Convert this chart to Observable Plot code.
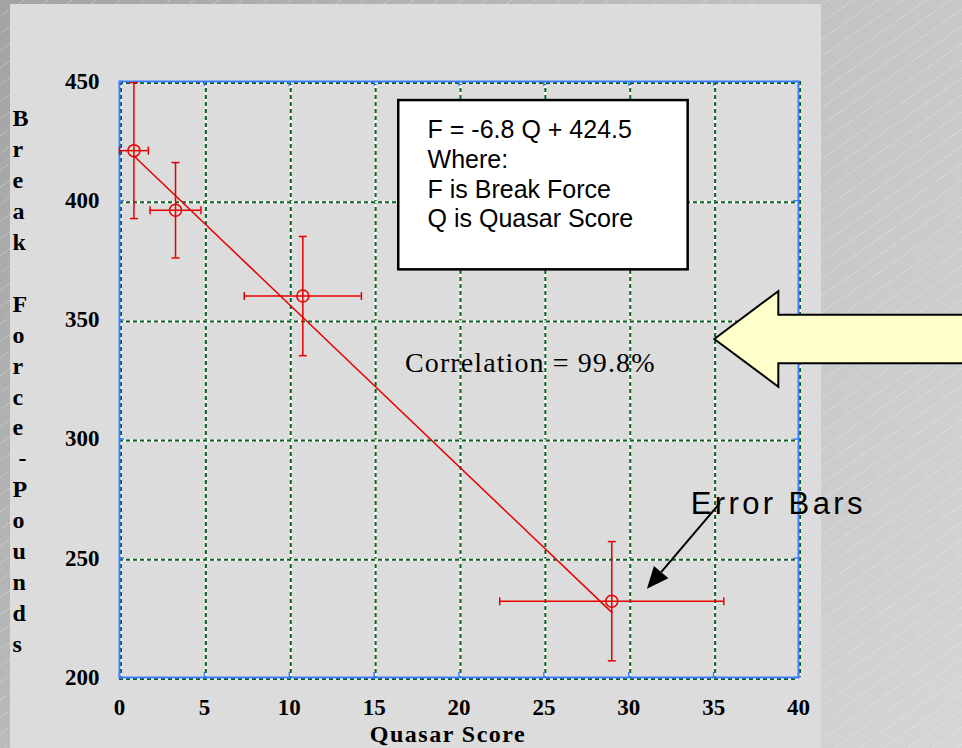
<!DOCTYPE html>
<html>
<head>
<meta charset="utf-8">
<script src="https://cdn.jsdelivr.net/npm/d3@7"></script>
<script src="https://cdn.jsdelivr.net/npm/@observablehq/plot@0.6"></script>
<style>
  html, body { margin: 0; padding: 0; }
  body {
    width: 962px; height: 748px; overflow: hidden; position: relative;
    background:
      repeating-linear-gradient(145deg, rgba(255,255,255,0) 0 13px, rgba(255,255,255,0.2) 13px 14px),
      linear-gradient(to bottom, rgba(255,255,255,0) 0%, rgba(255,255,255,0.25) 100%),
      linear-gradient(to right, #a3a3a3 0%, #c8c8c8 100%);
  }
  #panel { position: absolute; left: 10px; top: 4px; width: 811px; height: 744px; background: #dcdcdc; }
  #chart { position: absolute; left: 0; top: 0; }
</style>
</head>
<body>
<div id="panel"></div>
<div id="chart"></div>
<script>
// Measurements: quasar score vs. break force, with error bars on both axes
const quasarScore = [0.85, 3.3, 10.8, 29.0];
const quasarError = [0.85, 1.5, 3.45, 6.6];
const breakForce  = [421, 396, 360, 232];
const forceError  = [28.5, 20, 25, 25];

// Axis ticks
const xTicks = [0, 5, 10, 15, 20, 25, 30, 35, 40];
const yTicks = [200, 250, 300, 350, 400, 450];

// Fitted line and its quality
const slope = -6.8;
const intercept = 424.5;
const correlation = 99.8;

// Text
const xTitle = "Quasar Score";
const yTitle = "Break Force - Pounds";
const eqLines = [
  `F = ${slope} Q + ${intercept}`,
  "Where:",
  "F is Break Force",
  "Q is Quasar Score"
];
const corrLabel = `Correlation = ${correlation}%`;
const errLabel = "Error Bars";

// Annotation anchors (in data units)
const eqBox = {x1: 16.45, x2: 33.5, y1: 371, y2: 442};
const eqText = {x: 18.15, y: 411.5};
const corrAt = {x: 24.2, y: 332};
const errAt = {x: 33.65, y: 272.6};
const pointer = {x1: 35.4, y1: 273, x2: 31.1, y2: 237};
const bigArrowTip = {x: 35.07, y: 341.8};

const red = "#e60000";
const green = "#0b6020";
const blue = "#3d7eff";
const serif = "Liberation Serif, Times New Roman, serif";
const sans = "Liberation Sans, Arial, sans-serif";

const W = 962, H = 748;
const mL = 119, mR = 164, mT = 81, mB = 71;
const plotW = W - mL - mR, plotH = H - mT - mB;

const points = quasarScore.map((q, i) => ({q, f: breakForce[i], qe: quasarError[i], fe: forceError[i]}));
const fitLine = [quasarScore[0], quasarScore[quasarScore.length - 1]].map(q => ({q, f: slope * q + intercept}));

// The y title is stacked one letter per line; a blank line between words, the dash on its own line
const yTitleLines = yTitle.split(" ").flatMap((w, i, words) => {
  if (w === "-") return ["\u00a0-"];
  const next = words[i + 1];
  return next && next !== "-" ? [...w, "\u00a0"] : [...w];
});

// Short cap strokes for the error bars
const capH = {draw(ctx, size) { const r = Math.sqrt(size / Math.PI); ctx.moveTo(-r, 0); ctx.lineTo(r, 0); }};
const capV = {draw(ctx, size) { const r = Math.sqrt(size / Math.PI); ctx.moveTo(0, -r); ctx.lineTo(0, r); }};

// Black pointer from the "Error Bars" label
function pointerArrow(index, {x, y}) {
  const x1 = x(pointer.x1), y1 = y(pointer.y1), x2 = x(pointer.x2), y2 = y(pointer.y2);
  const a = Math.atan2(y2 - y1, x2 - x1);
  const len = 22, half = 9.5;
  const bx = x2 - len * Math.cos(a), by = y2 - len * Math.sin(a);
  const g = d3.create("svg:g");
  g.append("line").attr("x1", x1).attr("y1", y1).attr("x2", bx).attr("y2", by)
    .attr("stroke", "black").attr("stroke-width", 2);
  g.append("path")
    .attr("d", `M${x2},${y2}L${bx - half * Math.sin(a)},${by + half * Math.cos(a)}L${bx + half * Math.sin(a)},${by - half * Math.cos(a)}Z`)
    .attr("fill", "black");
  return g.node();
}

// Wide yellow block arrow pointing at the correlation value
function blockArrow(index, {x, y}, values, {width}) {
  const tx = x(bigArrowTip.x), ty = y(bigArrowTip.y);
  const head = 64, headHalf = 47.8, shaftHalf = 24.2, tail = width + 10;
  const d = `M${tx},${ty}L${tx + head},${ty - headHalf}L${tx + head},${ty - shaftHalf}L${tail},${ty - shaftHalf}` +
            `L${tail},${ty + shaftHalf}L${tx + head},${ty + shaftHalf}L${tx + head},${ty + headHalf}Z`;
  return d3.create("svg:path").attr("d", d).attr("fill", "#ffffcc")
    .attr("stroke", "black").attr("stroke-width", 2).attr("stroke-linejoin", "miter").node();
}

const chart = Plot.plot({
  width: W, height: H,
  marginLeft: mL, marginRight: mR, marginTop: mT, marginBottom: mB,
  style: {background: "transparent", color: "black", fontFamily: serif, overflow: "visible"},
  x: {domain: [0, 40]},
  y: {domain: [200, 450]},
  marks: [
    // dotted grid: white underlay, green dashes on top
    Plot.ruleX(xTicks, {stroke: "white", strokeWidth: 2, dx: 1.5}),
    Plot.ruleX(xTicks, {stroke: green, strokeWidth: 2, strokeDasharray: "4,3", dx: 1.5}),
    Plot.ruleY(yTicks, {stroke: "white", strokeWidth: 2, dy: 1.5}),
    Plot.ruleY(yTicks, {stroke: green, strokeWidth: 2, strokeDasharray: "4,3", dy: 1.5}),
    Plot.frame({stroke: blue, strokeWidth: 2}),
    // inward tick marks on all four sides
    Plot.ruleX(xTicks, {stroke: blue, strokeWidth: 1.5, insetTop: plotH - 5}),
    Plot.ruleX(xTicks, {stroke: blue, strokeWidth: 1.5, insetBottom: plotH - 5}),
    Plot.ruleY(yTicks, {stroke: blue, strokeWidth: 1.5, insetRight: plotW - 5}),
    Plot.ruleY(yTicks, {stroke: blue, strokeWidth: 1.5, insetLeft: plotW - 5}),
    // equation box
    Plot.rect([eqBox], {x1: "x1", x2: "x2", y1: "y1", y2: "y2", fill: "white", stroke: "black", strokeWidth: 2.5}),
    Plot.text([eqLines.join("\n")], {text: d => d, x: eqText.x, y: eqText.y, textAnchor: "start", lineAnchor: "middle",
      lineHeight: 1.19, fontSize: 25, fontFamily: sans, fill: "black"}),
    // fitted line
    Plot.line(fitLine, {x: "q", y: "f", stroke: red, strokeWidth: 1.5}),
    // error bars
    Plot.ruleX(points, {x: "q", y1: d => d.f - d.fe, y2: d => d.f + d.fe, stroke: red, strokeWidth: 1.5}),
    Plot.ruleY(points, {y: "f", x1: d => d.q - d.qe, x2: d => d.q + d.qe, stroke: red, strokeWidth: 1.5}),
    Plot.dot(points, {x: "q", y: d => d.f + d.fe, symbol: capH, r: 4, fill: "none", stroke: red, strokeWidth: 1.5}),
    Plot.dot(points, {x: "q", y: d => d.f - d.fe, symbol: capH, r: 4, fill: "none", stroke: red, strokeWidth: 1.5}),
    Plot.dot(points, {x: d => d.q - d.qe, y: "f", symbol: capV, r: 4, fill: "none", stroke: red, strokeWidth: 1.5}),
    Plot.dot(points, {x: d => d.q + d.qe, y: "f", symbol: capV, r: 4, fill: "none", stroke: red, strokeWidth: 1.5}),
    Plot.dot(points, {x: "q", y: "f", r: 6, fill: "none", stroke: red, strokeWidth: 1.5}),
    // annotations
    Plot.text([corrLabel], {text: d => d, x: corrAt.x, y: corrAt.y, textAnchor: "middle", lineAnchor: "middle",
      fontSize: 28, fontFamily: serif, fill: "black"}),
    Plot.text([errLabel], {text: d => d, x: errAt.x, y: errAt.y, textAnchor: "start", lineAnchor: "middle",
      fontSize: 31, fontFamily: sans, fill: "black"}),
    pointerArrow,
    blockArrow,
    // axes
    Plot.axisX({ticks: xTicks, tickSize: 0, tickPadding: 21, fontSize: 23, fontWeight: "bold", fontFamily: serif, label: null}),
    Plot.axisY({ticks: yTicks, tickSize: 0, tickPadding: 20, fontSize: 23, fontWeight: "bold", fontFamily: serif, label: null}),
    Plot.text([xTitle], {text: d => d, frameAnchor: "bottom", dx: -11, dy: 57, lineAnchor: "middle",
      fontSize: 24, fontWeight: "bold", fontFamily: serif, fill: "black"}),
    Plot.text([yTitleLines.join("\n")],
      {text: d => d, frameAnchor: "top-left", dx: -107, dy: 23, textAnchor: "start", lineAnchor: "top",
      lineHeight: 1.2875, fontSize: 24, fontWeight: "bold", fontFamily: serif, fill: "black"})
  ]
});

document.getElementById("chart").append(chart);

// Letter spacing for the spaced-out labels
const spacing = new Map([[corrLabel, "1.1px"], [errLabel, "3.4px"], [xTitle, "1.5px"]]);
d3.select(chart).selectAll("text").each(function() {
  const s = spacing.get(this.textContent);
  if (s) this.setAttribute("letter-spacing", s);
});
</script>
</body>
</html>
